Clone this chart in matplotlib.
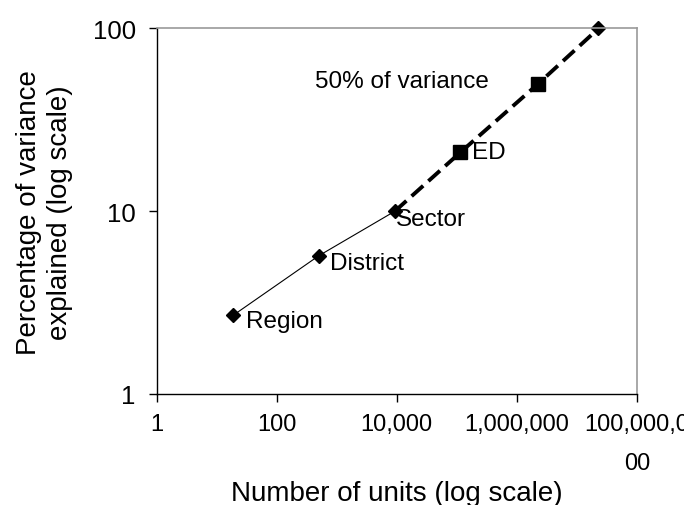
import matplotlib
matplotlib.use("Agg")
import matplotlib.pyplot as plt
from matplotlib.ticker import FixedLocator, NullLocator

plt.rcParams["font.family"] = ["Liberation Sans", "DejaVu Sans"]

# data
labels = ["Region", "District", "Sector", "ED", "", ""]
units = [19, 500, 9300, 115000, 2300000, 23000000]
variance = [2.7, 5.7, 10, 21, 50, 100]
markers = ["D", "D", "D", "s", "s", "D"]

xticks = [1, 100, 10000, 1000000, 100000000]
xtick_labels = ["1", "100", "10,000", "1,000,000", "100,000,0\n00"]
yticks = [1, 10, 100]
ytick_labels = ["1", "10", "100"]

# label offsets from the point, in points
label_offsets = [(9, -4), (8, -5.5), (0.7, -5.8), (8.3, 0), (0, 0), (0, 0)]

fig = plt.figure(figsize=(6.84, 5.06), dpi=100)
ax = fig.add_axes([0.229, 0.2194, 0.702, 0.7223])

# thin solid line up to Sector, thick dashed line after
ax.plot(units[:3], variance[:3], color="black", linewidth=0.8)
ax.plot(units[2:], variance[2:], color="black", linewidth=2.8,
        linestyle=(0, (4, 1.8)))

for x, y, m in zip(units, variance, markers):
    size = 7 if m == "D" else 10
    ax.plot(x, y, marker=m, color="black", markersize=size, linestyle="none",
            clip_on=False)

for x, y, lab, off in zip(units, variance, labels, label_offsets):
    if lab:
        ax.annotate(lab, (x, y), xytext=off, textcoords="offset points",
                    fontsize=17.5, ha="left", va="center")

ax.text(433, 51.6, "50% of variance", fontsize=17.5, ha="left", va="center")

ax.set_xscale("log")
ax.set_yscale("log")
ax.set_xlim(1, 100000000)
ax.set_ylim(1, 100)
ax.xaxis.set_major_locator(FixedLocator(xticks))
ax.xaxis.set_minor_locator(NullLocator())
ax.yaxis.set_major_locator(FixedLocator(yticks))
ax.yaxis.set_minor_locator(NullLocator())
ax.set_xticklabels(xtick_labels, fontsize=17, linespacing=2.0)
ax.set_yticklabels(ytick_labels, fontsize=18.5)
ax.tick_params(direction="out", length=6, width=1)
ax.tick_params(axis="x", pad=7.5)
ax.tick_params(axis="y", pad=9)

for side in ["top", "right"]:
    ax.spines[side].set_color("#999999")
    ax.spines[side].set_linewidth(1.2)
for side in ["left", "bottom"]:
    ax.spines[side].set_color("black")
    ax.spines[side].set_linewidth(1)

ax.set_xlabel("Number of units (log scale)", fontsize=20, va="center")
ax.xaxis.set_label_coords(0.5, -0.271)
ax.set_ylabel("Percentage of variance\nexplained (log scale)", fontsize=20,
              va="center", linespacing=1.25)
ax.yaxis.set_label_coords(-0.2326, 0.5)

fig.savefig("out.png", dpi=100)
